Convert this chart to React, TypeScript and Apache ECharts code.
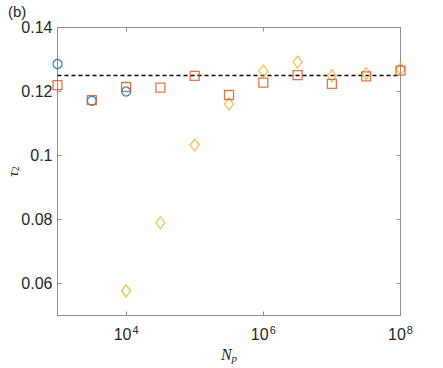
import React, { useEffect, useRef } from "react";
import * as echarts from "echarts";

const Np = [1000, 3162, 10000, 31623, 100000, 316228, 1000000, 3162278, 10000000, 31622777, 100000000];
const circleVals = [0.1286, 0.1171, 0.12];
const squareVals = [0.122, 0.1173, 0.1214, 0.1212, 0.1249, 0.1189, 0.1228, 0.1251, 0.1224, 0.1247, 0.1265];
const diamondVals = [0.0577, 0.079, 0.1033, 0.1161, 0.1264, 0.1292, 0.1249, 0.1256, 0.127];
const refValue = 0.125;
const xTickValues = [10000, 1000000, 100000000];
const yTicks = [0.06, 0.08, 0.1, 0.12, 0.14];

const FONT = "'Liberation Sans', Arial, sans-serif";
const SERIF = "'Liberation Serif', 'DejaVu Serif', serif";
const AXIS_COLOR = "#8f8f8f";
const TEXT_COLOR = "#262626";

const lg = (v: number) => Math.log10(v);

export default function App() {
  const ref = useRef<HTMLDivElement>(null);
  useEffect(() => {
    if (!ref.current) return;
    const chart = echarts.init(ref.current, null, { renderer: "svg" });
    const xTicks = xTickValues.map(lg);
    const circles = circleVals.map((v, i) => [lg(Np[i]), v]);
    const squares = squareVals.map((v, i) => [lg(Np[i]), v]);
    const diamonds = diamondVals.map((v, i) => [lg(Np[i + 2]), v]);
    const axisLine = { show: true, onZero: false, lineStyle: { color: AXIS_COLOR, width: 1 } };
    const tick = (vals: number[]) => ({
      show: true,
      inside: true,
      length: 4,
      customValues: vals,
      lineStyle: { color: AXIS_COLOR, width: 1 },
    });
    const xMin = lg(Np[0]);
    const xMax = lg(Np[Np.length - 1]);
    chart.setOption({
      animation: false,
      backgroundColor: "#ffffff",
      grid: {
        left: 57.5,
        right: 42.5,
        top: 27.5,
        bottom: 52.5,
        containLabel: false,
        outerBoundsMode: "none",
      },
      graphic: [
        {
          type: "text",
          left: 8,
          top: 4,
          style: { text: "(b)", font: `15px ${FONT}`, fill: TEXT_COLOR },
        },
      ],
      xAxis: [
        {
          type: "value",
          min: xMin,
          max: xMax,
          position: "bottom",
          axisLine,
          axisTick: tick(xTicks),
          splitLine: { show: false },
          axisLabel: {
            customValues: xTicks,
            margin: 9,
            color: TEXT_COLOR,
            formatter: (v: number) => `{b|10}{s|${Math.round(v)}}`,
            rich: {
              b: { fontSize: 16, fontFamily: FONT, color: TEXT_COLOR, lineHeight: 18 },
              s: { fontSize: 11, fontFamily: FONT, color: TEXT_COLOR, padding: [0, 0, 9, 1] },
            },
          },
          name: "{n|N}{p|p}",
          nameLocation: "middle",
          nameGap: 30,
          nameMoveOverlap: false,
          nameTextStyle: {
            rich: {
              n: { fontSize: 16, fontFamily: SERIF, fontStyle: "italic", color: TEXT_COLOR },
              p: { fontSize: 11, fontFamily: SERIF, fontStyle: "italic", color: TEXT_COLOR, padding: [7, 0, 0, 0] },
            },
          },
        },
        {
          type: "value",
          min: xMin,
          max: xMax,
          position: "top",
          axisLine,
          axisTick: tick(xTicks),
          axisLabel: { show: false },
          splitLine: { show: false },
        },
      ],
      yAxis: [
        {
          type: "value",
          min: 0.05,
          max: 0.14,
          position: "left",
          axisLine,
          axisTick: tick(yTicks),
          splitLine: { show: false },
          axisLabel: {
            customValues: yTicks,
            margin: 5,
            color: TEXT_COLOR,
            fontSize: 16,
            fontFamily: FONT,
            formatter: (v: number) => String(Math.round(v * 100) / 100),
          },
          name: "{t|τ}{s|2}",
          nameLocation: "middle",
          nameGap: 37,
          nameMoveOverlap: false,
          nameRotate: 90,
          nameTextStyle: {
            rich: {
              t: { fontSize: 15, fontFamily: SERIF, fontStyle: "italic", color: TEXT_COLOR },
              s: { fontSize: 10, fontFamily: SERIF, color: TEXT_COLOR, padding: [6, 0, 0, 0] },
            },
          },
        },
        {
          type: "value",
          min: 0.05,
          max: 0.14,
          position: "right",
          axisLine,
          axisTick: tick(yTicks),
          axisLabel: { show: false },
          splitLine: { show: false },
        },
      ],
      series: [
        {
          type: "line",
          data: [[xMin, refValue], [xMax, refValue]],
          showSymbol: false,
          symbol: "none",
          lineStyle: { color: "#000000", width: 1.3, type: [4, 3] },
          silent: true,
          z: 1,
        },
        {
          type: "scatter",
          data: circles,
          symbol: "circle",
          symbolSize: 9,
          itemStyle: { color: "transparent", borderColor: "#0072BD", borderWidth: 1.3 },
          z: 2,
        },
        {
          type: "scatter",
          data: diamonds,
          symbol: "diamond",
          symbolSize: [9, 12],
          itemStyle: { color: "transparent", borderColor: "#EDB120", borderWidth: 1.3 },
          z: 3,
        },
        {
          type: "scatter",
          data: squares,
          symbol: "rect",
          symbolSize: 9,
          itemStyle: { color: "transparent", borderColor: "#D95319", borderWidth: 1.3 },
          z: 4,
        },
      ],
    });
    return () => chart.dispose();
  }, []);
  return <div ref={ref} style={{ width: 443, height: 368, position: "absolute", left: 0, top: 0 }} />;
}
